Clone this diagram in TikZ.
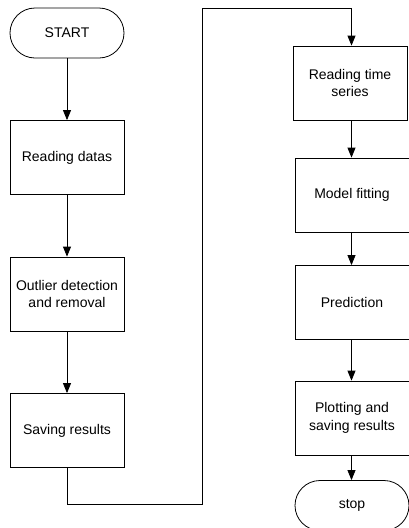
\documentclass[tikz,border=0pt]{standalone}
\usepackage{fontspec}
\setmainfont{Liberation Sans}
\usetikzlibrary{positioning, arrows.meta}

\begin{document}
\begin{tikzpicture}[
    x=1pt, y=-1pt,
    every node/.style={font=\fontsize{14}{17.5}\selectfont},
    stepbox/.style={rectangle, draw, line width=0.8pt, minimum width=114pt, minimum height=74pt, align=center},
    terminal/.style={rectangle, draw, line width=0.8pt, rounded corners=25pt, minimum width=114pt, minimum height=50pt},
    arrow/.style={-{Triangle[width=8pt, length=10pt]}, line width=0.8pt}
]
\useasboundingbox (0,0) rectangle (408,528);

% Left column
\node[terminal] (start) at (67, 33) {START};
\node[stepbox] (read) at (67, 157.5) {Reading datas};
\node[stepbox] (outlier) at (67, 294) {Outlier detection\\and removal};
\node[stepbox] (save) at (67, 430.5) {Saving results};

% Right column
\node[stepbox] (series) at (350, 83) {Reading time\\series};
\node[stepbox] (fit) at (352, 195) {Model fitting};
\node[stepbox] (pred) at (352, 302.5) {Prediction};
\node[stepbox] (plot) at (352, 418) {Plotting and\\saving results};
\node[terminal] (stop) at (352, 505.5) {stop};

% Connectors
\coordinate (c1) at (67, 504);
\coordinate (c2) at (202, 504);
\coordinate (c3) at (202, 8);
\coordinate (c4) at (351.5, 8);

\draw[arrow] (start) -- (read);
\draw[arrow] (read) -- (outlier);
\draw[arrow] (outlier) -- (save);
\draw[arrow] (save.south) -- (c1) -- (c2) -- (c3) -- (c4) -- (series.north -| c4);
\draw[arrow] (series.south -| c4) -- (fit.north -| c4);
\draw[arrow] (fit.south -| c4) -- (pred.north -| c4);
\draw[arrow] (pred.south -| c4) -- (plot.north -| c4);
\draw[arrow] (plot.south -| c4) -- (stop.north -| c4);

\end{tikzpicture}
\end{document}
